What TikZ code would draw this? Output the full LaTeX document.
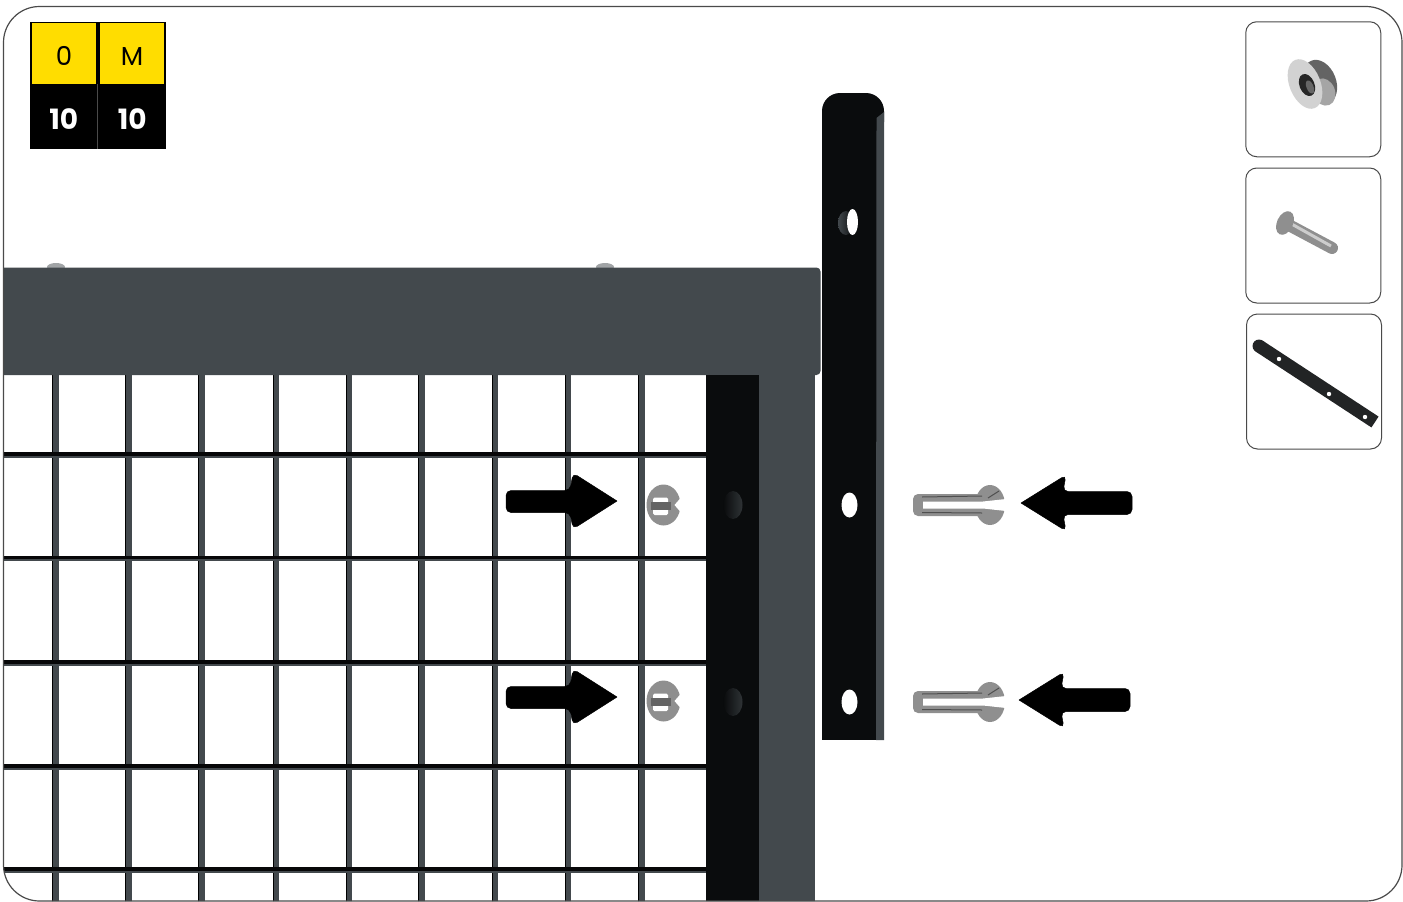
\documentclass[tikz,border=0pt]{standalone}
\usepackage{fontspec}
\setmainfont{Poppins}
\usepackage{xcolor}
\usetikzlibrary{positioning,calc}

\definecolor{frameedge}{HTML}{4A4A4A}
\definecolor{steelgrey}{HTML}{43494D}
\definecolor{postblack}{HTML}{0A0C0D}
\definecolor{badgeyellow}{HTML}{FFDD00}
\definecolor{pingrey}{HTML}{8F8F8F}

\tikzset{
  thumbbox/.style={draw=frameedge, line width=1pt, rounded corners=11pt, minimum width=135pt, minimum height=135pt, inner sep=0pt},
  levelcell/.style={fill=badgeyellow, minimum width=64pt, minimum height=61pt, inner sep=0pt, text height=24pt, text depth=0pt, font=\fontsize{26}{26}\selectfont},
  countcell/.style={fill=black, text=white, minimum width=67.5pt, minimum height=65pt, inner sep=0pt, text height=26pt, text depth=0pt, font=\fontsize{28}{28}\selectfont\bfseries},
  meshv/.style={draw=steelgrey, line width=6.5pt},
  meshh/.style={draw=black!90!steelgrey, line width=3.5pt},
  meshlow/.style={draw=steelgrey, line width=2.5pt},
  arrowfill/.style={fill=black, draw=black, line width=0.5pt, line join=round, rounded corners=5pt},
  pinfill/.style={fill=pingrey},
  pinline/.style={draw=pingrey!55!black, line width=1pt},
}

\begin{document}
\begin{tikzpicture}[x=1pt, y=-1pt]
  \useasboundingbox (0,0) rectangle (1403,902);

  % Panel clipped by the outer frame
  \begin{scope}
    \clip[rounded corners=36pt] (3.5,6.5) rectangle (1402,901);

    % Wire mesh
    \foreach \wx in {55.5,128.5,201.5,276,349,421.5,495,568,641.5} {
      \draw[meshv] (\wx,375) -- (\wx,902);
      \draw[black, line width=1pt] (\wx-3,375) -- (\wx-3,902);
    }
    \foreach \wy in {455,558.5,663,767,870} {
      \draw[meshlow] (3,\wy+1.5) -- (706,\wy+1.5);
      \draw[meshh] (3,\wy-1) -- (706,\wy-1);
    }

    % Top rail and post
    \fill[steelgrey!50!white] (605,267) ellipse [x radius=9pt, y radius=4pt];
    \fill[steelgrey!50!white] (56,267) ellipse [x radius=9pt, y radius=4pt];
    \fill[steelgrey, rounded corners=4pt] (0,267.5) -- (820.5,267.5) -- (820.5,375) -- (0,375) -- cycle;
    \fill[postblack] (705.5,375) rectangle (758.5,902);
    \fill[steelgrey] (758.5,370) rectangle (815,902);
    \foreach \dy in {505,702} {
      \shade[left color=postblack, right color=steelgrey!70!black] (733,\dy) ellipse [x radius=9.5pt, y radius=14pt];
    }
  \end{scope}

  % Outer frame
  \draw[frameedge, line width=1.2pt, rounded corners=36pt] (3.5,6.5) rectangle (1402,901);

  % Level badge
  \fill[black] (30,21.5) rectangle (166,149);
  \node[levelcell] (levelA) at (64,53.5) {0};
  \node[levelcell] (levelB) at (132,53.5) {M};
  \node[countcell] (countA) at (63.75,116.5) {10};
  \node[countcell] (countB) at (132.25,116.5) {10};
  \draw[frameedge, line width=0.5pt] (countA.north east) -- (countA.south east);

  % Flat strap
  \fill[postblack, rounded corners=18pt] (822,140) -- (822,93) -- (884,93) -- (884,140) -- cycle;
  \fill[postblack] (822,120) rectangle (876.5,740);
  \fill[steelgrey] (884,112) -- (876.5,118) -- (876,740) -- (884,740) -- cycle;
  \shade[left color=steelgrey, right color=postblack] (846,223) ellipse [x radius=8pt, y radius=12pt];
  \fill[white] (852.5,222) ellipse [x radius=5.5pt, y radius=13pt];
  \fill[white] (849.5,505) ellipse [x radius=8pt, y radius=12.5pt];
  \fill[white] (849.5,702) ellipse [x radius=8pt, y radius=12.5pt];

  % Arrows pushing towards the frame
  \foreach \ay in {0,196} {
    \begin{scope}[shift={(0,\ay)}]
      \draw[arrowfill] (617,501) -- (573,473) -- (570,490.5) -- (506,490.5) -- (506,512.5) -- (570,512.5) -- (573,529) -- (617,501);
      % Pin seen from the end
      \fill[pingrey] (663.5,505) ellipse [x radius=17pt, y radius=20.5pt];
      \fill[white, rounded corners=1.5pt] (653,497.5) rectangle (668,515);
      \fill[pingrey!70!black] (651,501.5) rectangle (671,509.5);
      \fill[white] (684,494) -- (674.5,505) -- (684,516) -- cycle;
    \end{scope}
  }
  \foreach \ay/\ax in {0/0,197/-2} {
    \begin{scope}[shift={(\ax,\ay)}]
      \draw[arrowfill] (1021,503) -- (1066,475) -- (1063,491.5) -- (1132,491.5) -- (1132,514.5) -- (1063,514.5) -- (1066,531) -- (1021,503);
    \end{scope}
  }
  \foreach \ay in {0,197} {
    \begin{scope}[shift={(0,\ay)}]
      % Split pin
      \fill[pinfill] (990,505) ellipse [x radius=15pt, y radius=20pt];
      \fill[pinfill, rounded corners=5pt] (913,494) rectangle (985,516);
      \draw[pinline] (922,497) -- (982,496);
      \draw[pinline] (922,512.5) -- (982,513);
      \draw[pinline] (988,498) -- (999,491);
      \fill[white] (923,501.5) -- (983,501.5) -- (1006,499) -- (1006,511) -- (983,508.5) -- (923,508.5) -- cycle;
      \fill[white] (1005.5,480) rectangle (1012,530);
    \end{scope}
  }

  % Parts list
  \node[thumbbox] (thumbBush) at (1313.25,89.25) {};
  \node[thumbbox] (thumbBolt) at (1313.25,235.5) {};
  \node[thumbbox] (thumbStrap) at (1314,381.5) {};

  % Bushing
  \fill[pingrey!70!black] (1320,82) ellipse [x radius=16pt, y radius=23pt, rotate=22];
  \fill[pingrey!80!white] (1324,92) ellipse [x radius=11pt, y radius=14pt, rotate=22];
  \fill[pingrey!40!white] (1305,84) ellipse [x radius=15.5pt, y radius=26pt, rotate=22];
  \fill[black!85] (1307,85) ellipse [x radius=7.5pt, y radius=11.5pt, rotate=22];
  \fill[black!60] (1310,87) ellipse [x radius=3.5pt, y radius=7pt, rotate=22];

  % Bolt
  \coordinate (boltHead) at (1285,223);
  \coordinate (boltEnd) at (1332,248);
  \draw[pingrey, line width=12pt, line cap=round] (boltHead) -- (boltEnd);
  \draw[pingrey!45!white, line width=3pt] ($(boltHead)+(3,-1)$) -- ($(boltEnd)+(-1,-2)$);
  \fill[pingrey] (1285,223) ellipse [x radius=8pt, y radius=12.5pt, rotate=-25];

  % Strap
  \coordinate (strapA) at (1259,346);
  \coordinate (strapB) at (1375,422);
  \fill[postblack!90!white] (strapA) circle [radius=6.5pt];
  \draw[postblack!90!white, line width=13pt] (strapA) -- (strapB);
  \foreach \hx/\hy in {1279/359,1329/394,1365/417} {
    \fill[white] (\hx,\hy) circle [radius=2.2pt];
  }
\end{tikzpicture}
\end{document}
